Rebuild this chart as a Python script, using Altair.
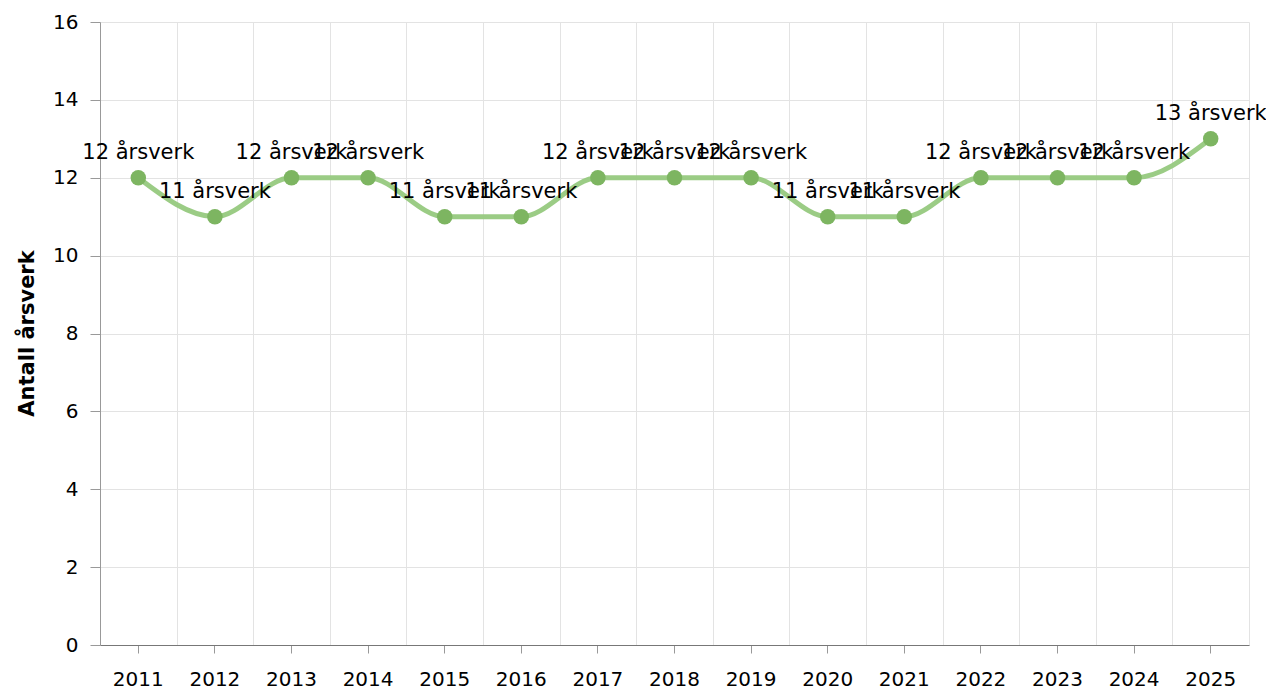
import altair as alt
import pandas as pd

years = ["2011", "2012", "2013", "2014", "2015", "2016", "2017", "2018",
         "2019", "2020", "2021", "2022", "2023", "2024", "2025"]
values = [12, 11, 12, 12, 11, 11, 12, 12, 12, 11, 11, 12, 12, 12, 13]
labels = [f"{v} årsverk" for v in values]

df = pd.DataFrame({"year": years, "value": values, "label": labels})

FONT = "DejaVu Sans"
xscale = alt.Scale(paddingInner=0, paddingOuter=0)
yscale = alt.Scale(domain=[0, 16])

yaxis = alt.Axis(title="Antall årsverk", values=list(range(0, 17, 2)),
                 grid=True, gridColor="#e3e3e3",
                 domainColor="#999999", tickColor="#999999",
                 tickSize=10, labelPadding=12,
                 labelFontSize=20, labelFont=FONT, labelColor="#000000",
                 titleFont=FONT, titleFontSize=21, titleFontWeight="bold",
                 titleColor="#000000", titleX=-73, titleY=311,
                 titleAngle=-90, titleAlign="center", titleBaseline="middle")

base = alt.Chart(df)

grid_layer = base.mark_point(opacity=0).encode(
    x=alt.X("year:N", scale=xscale, sort=years,
            axis=alt.Axis(title=None, grid=True, tickBand="extent", labels=False,
                          ticks=False, domain=False, orient="bottom",
                          gridColor="#e3e3e3", gridWidth=1)),
    y=alt.Y("value:Q", scale=yscale, axis=yaxis),
)

line = base.mark_line(interpolate="monotone", color="#96c97e", strokeWidth=5,
                      opacity=0.95).encode(
    x=alt.X("year:N", scale=xscale, sort=years,
            axis=alt.Axis(title=None, grid=False, orient="bottom", labelAngle=0,
                          domainColor="#777777", tickColor="#999999", tickSize=8,
                          labelPadding=16, labelFontSize=20, labelFont=FONT,
                          labelColor="#000000")),
    y=alt.Y("value:Q", scale=yscale, axis=yaxis),
)

points = base.mark_circle(size=240, color="#7db561", opacity=1).encode(
    x=alt.X("year:N", sort=years, axis=None),
    y=alt.Y("value:Q", scale=yscale, axis=yaxis),
)

text = base.mark_text(dy=-19, baseline="alphabetic", fontSize=21, font=FONT,
                      color="#000000").encode(
    x=alt.X("year:N", sort=years, axis=None),
    y=alt.Y("value:Q", scale=yscale, axis=yaxis),
    text="label:N",
)

chart = alt.layer(grid_layer, line, points, text).resolve_axis(
    x="independent"
).properties(
    width=1149, height=623,
    autosize=alt.AutoSizeParams(type="none"),
    padding={"left": 92, "top": 14, "right": 17, "bottom": 46},
).configure_view(stroke=None)

chart.save("out.html", embed_options={"renderer": "svg", "actions": False})
